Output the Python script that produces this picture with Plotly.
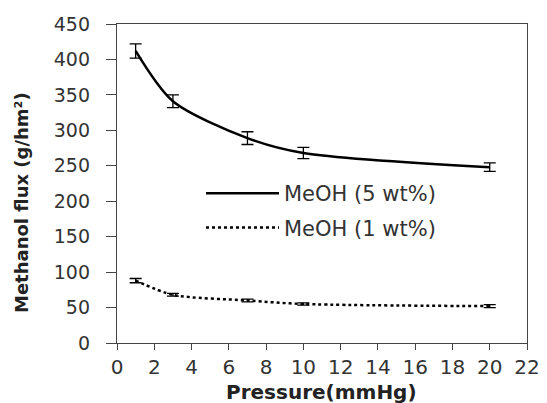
import plotly.graph_objects as go

pressure = [1, 3, 7, 10, 20]
flux_5 = [412, 341, 289, 268, 248]
err_5 = [10, 9, 9, 8, 6]
flux_1 = [88, 68, 60, 55, 52]
err_1 = [3, 2, 2, 1.5, 2]

x_ticks = list(range(0, 23, 2))
y_ticks = list(range(0, 451, 50))

# page body adds an 8px offset; plot area target (screen px): x 117..527, y 24..343
OFF = 8
W, H = 547 - OFF, 403 - OFF
L, T = 117 - OFF, 24 - OFF
R, B = W - (527 - OFF), H - (343 - OFF)
PW, PH = W - L - R, H - T - B


def px(sx):
    return (sx - OFF - L) / PW


def py(sy):
    return (H - B - (sy - OFF)) / PH


fig = go.Figure()
fig.add_trace(go.Scatter(
    x=pressure, y=flux_5, mode="lines", name="MeOH (5 wt%)", legendgroup="a",
    line=dict(color="black", width=2.5, shape="spline", smoothing=0.8),
    error_y=dict(type="data", array=err_5, visible=True, color="black", thickness=1.3, width=6),
))
fig.add_trace(go.Scatter(
    x=pressure, y=flux_1, mode="lines", name="MeOH (1 wt%)", legendgroup="b",
    line=dict(color="black", width=2.5, dash="dot", shape="spline", smoothing=0.8),
    error_y=dict(type="data", array=err_1, visible=True, color="black", thickness=1.3, width=6),
))

fig.update_layout(
    width=W, height=H,
    margin=dict(l=L, r=R, t=T, b=B, autoexpand=False),
    paper_bgcolor="white", plot_bgcolor="white",
    showlegend=True,
    legend=dict(x=px(201), y=py(173), xanchor="left", yanchor="top",
                font=dict(family="DejaVu Sans", size=21, color="#333333"),
                itemwidth=73, tracegroupgap=4, traceorder="grouped", bgcolor="rgba(0,0,0,0)"),
    xaxis=dict(range=[0, 22], tickvals=x_ticks, ticks="outside", ticklen=6, tickcolor="#444",
               showline=True, linecolor="#444", linewidth=1.3, mirror=True, showgrid=False,
               zeroline=False, tickfont=dict(family="DejaVu Sans", size=20, color="#333333"),
               automargin=False),
    yaxis=dict(range=[0, 450], tickvals=y_ticks, ticks="outside", ticklen=10, tickcolor="#444",
               showline=True, linecolor="#444", linewidth=1.3, mirror=True, showgrid=False,
               zeroline=False, tickfont=dict(family="DejaVu Sans", size=19, color="#333333"),
               ticklabelstandoff=12, automargin=False),
    annotations=[
        dict(text="<b>Pressure(mmHg)</b>", xref="paper", yref="paper",
             x=px(321), y=py(392), xanchor="center", yanchor="middle",
             showarrow=False, font=dict(family="DejaVu Sans", size=20, color="#222")),
        dict(text="<b>Methanol flux (g/hm²)</b>", xref="paper", yref="paper", textangle=-90,
             x=px(22), y=py(203), xanchor="center", yanchor="middle",
             showarrow=False, font=dict(family="DejaVu Sans", size=18, color="#222")),
    ],
)

fig.write_html("out.html")
